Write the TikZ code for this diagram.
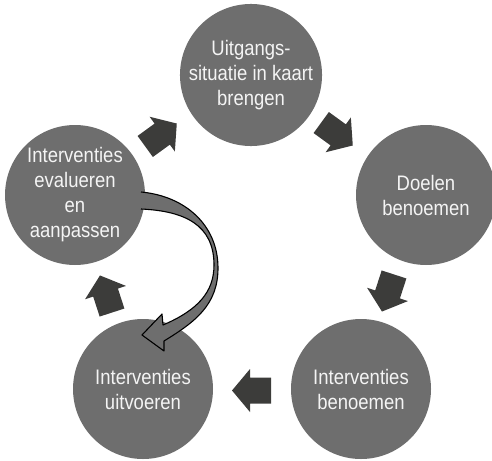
\documentclass[tikz,border=0pt]{standalone}
\usepackage{fontspec}
\setmainfont{Liberation Sans}[FakeStretch=0.88]
\definecolor{circgray}{HTML}{6E6E6E}
\definecolor{arrgray}{HTML}{3C3C3A}
\definecolor{txtwhite}{HTML}{F4F4F4}
\tikzset{
  stage/.style={circle, fill=circgray, minimum size=140pt, inner sep=0pt,
    text=txtwhite, align=center, font=\fontsize{21}{25}\selectfont},
  pics/barrow/.style={code={
    \fill[arrgray] (-19.5,-13) -- (1.5,-13) -- (1.5,-21.5) -- (19.5,0)
      -- (1.5,21.5) -- (1.5,13) -- (-19.5,13) -- cycle;}},
  bentfill/.style={fill=circgray},
  bentline/.style={draw=black, line width=1.1pt, line join=round},
}
\begin{document}
\begin{tikzpicture}[x=1pt, y=-1pt]
\useasboundingbox (0,0) rectangle (492,460);
% stages
\node[stage] (s1) at (251,75) {Uitgangs-\\situatie in kaart\\brengen};
\node[stage] (s2) at (426,195) {Doelen\\benoemen};
\node[stage] (s3) at (361,389) {Interventies\\benoemen};
\node[stage] (s4) at (143,389) {Interventies\\uitvoeren};
\node[stage] (s5) at (75,195) {Interventies\\evalueren\\en\\aanpassen};
% block arrows between stages
\pic[rotate=-36] at (337,134) {barrow};
\pic[rotate=-108] at (388,293) {barrow};
\pic[rotate=180] at (251.5,390.5) {barrow};
\pic[rotate=108] at (106,294) {barrow};
\pic[rotate=36] at (161,135) {barrow};
% curved feedback arrow from s5 to s4
\coordinate (ca) at (141,192);
\coordinate (cb) at (141,209);
\fill[bentfill] (ca) .. controls (185,196) and (218,225) .. (218,268)
  .. controls (218,305) and (195,322) .. (164,341)
  -- (164,351) -- (142,335) -- (162,314) -- (163,325)
  .. controls (198,310) and (214,292) .. (214,265)
  .. controls (214,225) and (185,211) .. (cb) -- cycle;
\draw[bentline] (ca) .. controls (185,196) and (218,225) .. (218,268)
  .. controls (218,305) and (195,322) .. (164,341)
  -- (164,351) -- (142,335) -- (162,314) -- (163,325)
  .. controls (198,310) and (214,292) .. (214,265)
  .. controls (214,225) and (185,211) .. (cb);
\end{tikzpicture}
\end{document}
